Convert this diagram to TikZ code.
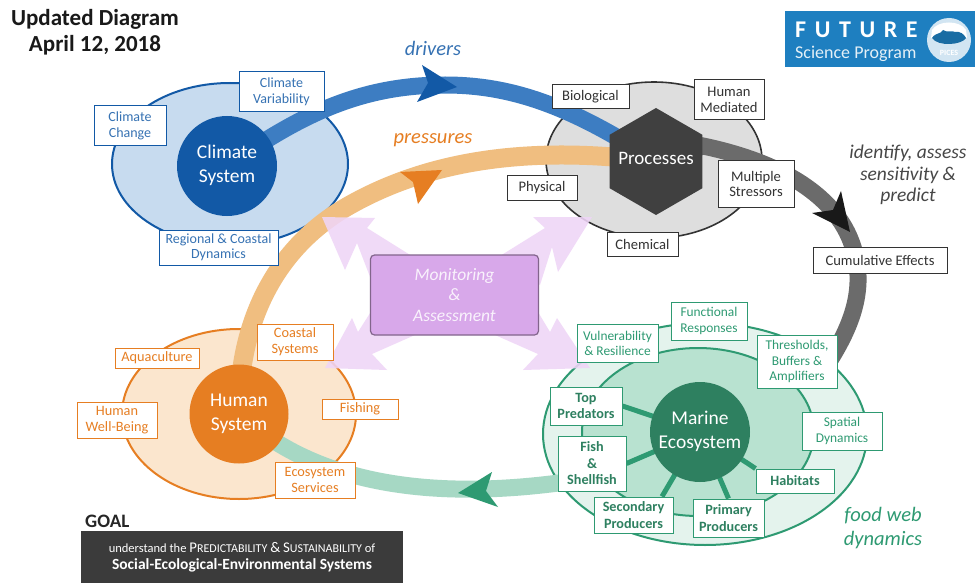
\documentclass[tikz,border=0pt]{standalone}
\usepackage{fontspec}
\setmainfont{Carlito}
\usetikzlibrary{shapes.geometric}
\pgfdeclarelayer{base}
\pgfdeclarelayer{links}
\pgfsetlayers{base,links,main}
\definecolor{cblue}{HTML}{1259A6}
\definecolor{cbluefill}{HTML}{C7DBEF}
\definecolor{cbluearrow}{HTML}{3D7DC2}
\definecolor{corange}{HTML}{E67E22}
\definecolor{corangefill}{HTML}{FBE6CE}
\definecolor{corangearrow}{HTML}{F0BE80}
\definecolor{cgreen}{HTML}{2E9A72}
\definecolor{cgreendark}{HTML}{2E8060}
\definecolor{cgreenout}{HTML}{E4F3ED}
\definecolor{cgreenin}{HTML}{B8E2D0}
\definecolor{cgreenarrow}{HTML}{A6D8C4}
\definecolor{cgreylabel}{HTML}{333333}
\definecolor{cpink}{HTML}{EFD5F7}
\definecolor{cpurple}{HTML}{D8A8EA}
\definecolor{clogo}{HTML}{1E7FC0}
\newcommand{\hubtext}[2]{\raisebox{2.5pt}{\begin{tabular}{@{}c@{}}#1\\#2\end{tabular}}}
\newcommand{\lgap}{\kern 8.6pt}
\tikzset{
  x=1pt,y=-1pt,
  lab/.style={draw,line width=1pt,fill=white,align=center,inner sep=0pt,font=\fontsize{14}{15.5}\selectfont},
  bluelab/.style={lab,draw=cblue,text=cblue!85!white},
  greylab/.style={lab,draw=cgreylabel,text=cgreylabel,font=\fontsize{14.6}{15.8}\selectfont},
  orangelab/.style={lab,draw=corange,text=corange,font=\fontsize{14.3}{15.8}\selectfont},
  greenlab/.style={lab,draw=cgreen,text=cgreen,font=\fontsize{13.4}{15.2}\selectfont},
  boldlab/.style={lab,draw=cgreen,text=cgreendark,font=\fontsize{14.2}{16.5}\selectfont\bfseries},
  hub/.style={circle,inner sep=0pt,text=white,font=\fontsize{19.5}{24}\selectfont},
  band/.style={line width=17pt,line cap=butt},
  spoke/.style={line width=5pt,cgreen},
  phrase/.style={align=center,font=\fontsize{20.5}{24}\selectfont\itshape},
}
\begin{document}
\begin{tikzpicture}
\useasboundingbox (0,0) rectangle (975,583);
% hubs
\node[hub,fill=cblue,minimum size=100pt] (climate) at (227,166) {\hubtext{Climate}{System}};
\node[hub,fill=corange,minimum size=99pt] (human) at (239,414) {\hubtext{Human}{System}};
\node[hub,fill=cgreendark,minimum size=100pt] (marine) at (700,432) {\hubtext{Marine}{Ecosystem}};
\node[regular polygon,regular polygon sides=6,shape border rotate=30,minimum size=107pt,inner sep=0pt,fill=black!75] (proc) at (656,161.5) {};
\node[text=white,font=\fontsize{19}{24}\selectfont] (proclab) at (656,158) {Processes};
\coordinate (fishanchor) at (566,482);
\begin{pgfonlayer}{base}
\fill[white] (0,0) rectangle (975,583);
% ellipses
\draw[cblue,line width=2pt,fill=cbluefill] (230,164) ellipse [x radius=118,y radius=81];
\draw[cgreylabel,line width=1.6pt,fill=black!13] (654,160) ellipse [x radius=108,y radius=78];
\draw[corange,line width=2pt,fill=corangefill] (239,414) ellipse [x radius=117,y radius=85];
\draw[cgreen,line width=2pt,fill=cgreenout] (705,434) ellipse [x radius=162,y radius=111];
\draw[cgreen,line width=2pt,fill=cgreenin] (698,432) ellipse [x radius=116,y radius=84];
% bands
\draw[band,corangearrow,line width=19pt] (human.center) .. controls (238,330) and (270,250) .. (350,205) .. controls (430,160) and (530,145) .. (proc.center);
\draw[band,cbluearrow] (climate.center) .. controls (300,115) and (360,85) .. (445,85) .. controls (510,85) and (570,105) .. (proc.center);
\draw[band,black!58] (proc.center) -- (703,146) .. controls (770,160) and (835,190) .. (853,247) .. controls (865,285) and (855,320) .. (830,360);
\draw[band,cgreenarrow] (human.center) .. controls (300,470) and (400,505) .. (fishanchor);
% arrowheads
\fill[cblue] (457,87) -- (422,65) -- (428,83) -- (417,102) -- cycle;
\fill[corange] (442,170) -- (400,172) -- (413,182) -- (418,204) -- cycle;
\fill[black!90] (850,232) -- (841,191) -- (833,210) -- (812,213) -- cycle;
\fill[cgreen] (458,493) -- (492,472) -- (486,491) -- (498,507) -- cycle;
% pink arrows
\fill[cpink,opacity=.88] (322,217) -- (375,218) -- (367,228) -- (415,258) -- (372,282) -- (357,243) -- (345,270) -- cycle;
\fill[cpink,opacity=.88] (592,217) -- (533,217) -- (545,228) -- (500,256) -- (540,285) -- (552,247) -- (558,272) -- cycle;
\fill[cpink,opacity=.88] (325,368) -- (352,318) -- (358,332) -- (372,310) -- (415,335) -- (372,354) -- (387,370) -- cycle;
\fill[cpink,opacity=.88] (590,368) -- (557,318) -- (550,332) -- (538,312) -- (495,335) -- (538,354) -- (523,370) -- cycle;
\end{pgfonlayer}
% centre box
\node[draw=black!40!cpurple,line width=1.2pt,fill=cpurple,rounded corners=4pt,minimum width=168pt,minimum height=80pt,align=center,text=white!85!cpurple,font=\fontsize{17.5}{20.7}\selectfont\itshape,inner sep=0pt] (monitor) at (454.5,295) {Monitoring\\\&\\Assessment};
% bold labels
\node[boldlab,minimum width=72pt,minimum height=38pt] (top) at (586,406) {Top\\Predators};
\node[boldlab,minimum width=68pt,minimum height=55pt] (fish) at (592,463.5) {Fish\\\&\\Shellfish};
\node[boldlab,minimum width=79pt,minimum height=36pt] (secondary) at (633.5,515) {Secondary\\Producers};
\node[boldlab,minimum width=71pt,minimum height=38pt] (primary) at (728.5,518) {Primary\\Producers};
\node[boldlab,minimum width=78pt,minimum height=24pt] (habitats) at (795,481) {Habitats};
\begin{pgfonlayer}{links}
\draw[spoke] (marine.center) -- (top.east);
\draw[spoke] (marine.center) -- (fish.east);
\draw[spoke] (marine.center) -- (secondary.33);
\draw[spoke] (marine.center) -- (primary.north);
\draw[spoke] (marine.center) -- (habitats.north west);
\end{pgfonlayer}
% blue labels
\node[bluelab,minimum width=72pt,minimum height=40pt] (lcc) at (130,126) {Climate\\Change};
\node[bluelab,minimum width=85pt,minimum height=40pt] (lcv) at (281.5,92) {Climate\\Variability};
\node[bluelab,minimum width=119pt,minimum height=35pt] (lrc) at (218.5,247.5) {Regional \& Coastal\\Dynamics};
% grey labels
\node[greylab,minimum width=77pt,minimum height=24pt] (lbio) at (590.5,97) {Biological};
\node[greylab,minimum width=70pt,minimum height=40pt] (lhm) at (729,100) {Human\\Mediated};
\node[greylab,minimum width=70pt,minimum height=24pt] (lphy) at (542,188) {Physical};
\node[greylab,minimum width=76pt,minimum height=46pt] (lms) at (756,184) {Multiple\\Stressors};
\node[greylab,minimum width=71pt,minimum height=24pt] (lche) at (642.5,244) {Chemical};
\node[greylab,minimum width=134pt,minimum height=26pt] (lcum) at (880,260) {Cumulative Effects};
% orange labels
\node[orangelab,minimum width=84pt,minimum height=20pt] (laq) at (157,358) {Aquaculture};
\node[orangelab,minimum width=76pt,minimum height=36pt] (lcs) at (295,342) {Coastal\\Systems};
\node[orangelab,minimum width=80pt,minimum height=36pt] (lwb) at (117,420) {Human\\Well-Being};
\node[orangelab,minimum width=76pt,minimum height=20pt] (lfi) at (360,409) {Fishing};
\node[orangelab,minimum width=80pt,minimum height=36pt] (les) at (315,480) {Ecosystem\\Services};
% green labels
\node[greenlab,minimum width=76pt,minimum height=38pt] (lfr) at (709,321) {Functional\\Responses};
\node[greenlab,minimum width=81pt,minimum height=38pt] (lvr) at (617.5,343) {Vulnerability\\\& Resilience};
\node[greenlab,minimum width=80pt,minimum height=53pt] (lth) at (797,361.5) {Thresholds,\\Buffers \&\\Amplifiers};
\node[greenlab,minimum width=80pt,minimum height=38pt] (lsd) at (842,431) {Spatial\\Dynamics};
% phrases
\node[phrase,text=cblue!85!white] (tdrivers) at (433,48) {drivers};
\node[phrase,text=corange] (tpressures) at (433,140) {pressures};
\node[phrase,text=black!72,font=\fontsize{19.5}{21.5}\selectfont\itshape] (tidentify) at (908,175) {identify, assess\\sensitivity \&\\predict};
\node[phrase,text=cgreen] (tfood) at (883,528) {food web\\dynamics};
% title
\node[align=center,font=\fontsize{23}{26}\selectfont\bfseries,text=black!90] (title) at (95,32) {Updated Diagram\\April 12, 2018};
% goal
\node[anchor=west,font=\fontsize{19}{20}\selectfont\bfseries,text=black!85,inner sep=0pt] (goal) at (85,521) {GOAL};
\node[fill=black!77,minimum width=322pt,minimum height=52pt,align=center,text=white,inner sep=0pt] (goalbox) at (242,557) {{\fontsize{12.5}{14}\selectfont understand the {\fontsize{14.8}{14}\selectfont P}{\fontsize{12}{14}\selectfont REDICTABILITY} {\fontsize{14.8}{14}\selectfont \&} {\fontsize{14.8}{14}\selectfont S}{\fontsize{12}{14}\selectfont USTAINABILITY} of}\\[5pt]{\fontsize{15.5}{17}\selectfont\bfseries Social-Ecological-Environmental Systems}};
% logo
\node[fill=clogo,minimum width=190pt,minimum height=56pt,inner sep=0pt] (logo) at (880,39) {};
\node[anchor=west,text=white,font=\fontsize{24}{25}\selectfont\bfseries,inner sep=0pt] (lfuture) at (795,30) {F\lgap U\lgap T\lgap U\lgap R\lgap E};
\node[anchor=west,text=white!88!clogo,font=\fontsize{18}{19}\selectfont,inner sep=0pt] (lsci) at (795,54) {Science Program};
\node[circle,fill=white!80!clogo,minimum size=44pt,inner sep=0pt] (globe) at (949,40) {};
\fill[white] (932,30) .. controls (938,20) and (960,20) .. (966,30) -- (967,38) -- (931,38) -- cycle;
\fill[clogo!85!black] (932,38) .. controls (936,32) and (940,35) .. (943,30) .. controls (947,33) and (952,30) .. (955,32) .. controls (960,31) and (964,34) .. (966,38) .. controls (962,45) and (938,47) .. (932,38) -- cycle;
\node[text=white,font=\fontsize{8}{8}\selectfont\bfseries,inner sep=0pt] (lpices) at (949,53) {PICES};
\end{tikzpicture}
\end{document}
